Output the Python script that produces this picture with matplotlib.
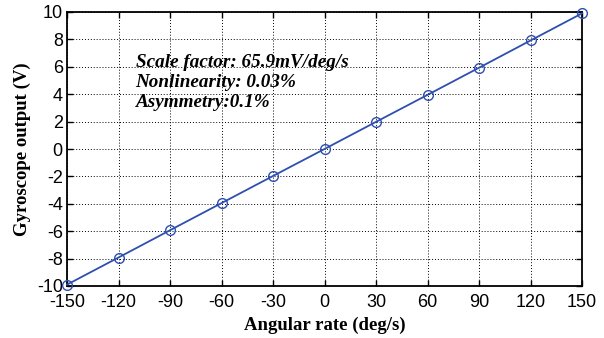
import matplotlib
matplotlib.use("Agg")
import matplotlib.pyplot as plt

rate = [-150, -120, -90, -60, -30, 0, 30, 60, 90, 120, 150]
output = [-9.9, -7.92, -5.93, -3.95, -1.97, 0.0, 1.98, 3.95, 5.93, 7.92, 9.9]
xticks = [-150, -120, -90, -60, -30, 0, 30, 60, 90, 120, 150]
yticks = [-10, -8, -6, -4, -2, 0, 2, 4, 6, 8, 10]
annot = ["Scale factor: 65.9mV/deg/s", "Nonlinearity: 0.03%", "Asymmetry:0.1%"]

fig = plt.figure(figsize=(6.04, 3.38), dpi=100)
ax = fig.add_axes([67/604, 1-286/338, (582-67)/604, (286-12)/338])
ax.plot(rate, output, color="#2f4fb0", lw=1.3, marker="o", ms=7,
        mfc="none", mec="#2f4fb0", mew=1.0, clip_on=False, zorder=3)
ax.set_xlim(-150, 150)
ax.set_ylim(-10, 10)
ax.set_xticks(xticks)
ax.set_yticks(yticks)
ax.set_xticklabels([str(v) for v in xticks], family="Liberation Sans", fontsize=13)
ax.set_yticklabels([str(v) for v in yticks], family="Liberation Sans", fontsize=13)
ax.tick_params(axis="x", direction="in", top=True, length=4, width=1, pad=6)
ax.tick_params(axis="y", direction="in", right=True, length=4, width=1, pad=3)
ax.grid(True, linestyle=(0, (1, 2)), color="black", lw=0.7)
for s in ax.spines.values():
    s.set_linewidth(1.3)
ax.set_xlabel("Angular rate (deg/s)", family="Liberation Serif", fontweight="bold", fontsize=13.5, labelpad=4)
ax.set_ylabel("Gyroscope output (V)", family="Liberation Serif", fontweight="bold", fontsize=13.5, labelpad=4)
ys = [6.35, 4.85, 3.4]
for t, y in zip(annot, ys):
    ax.text(-110, y, t, family="Liberation Serif", fontweight="bold", style="italic", fontsize=13.8, va="center")
fig.savefig("out.png", dpi=100)
